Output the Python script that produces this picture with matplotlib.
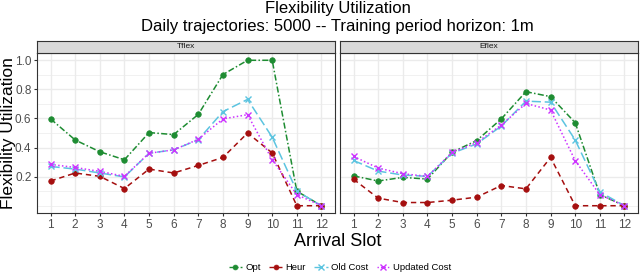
import matplotlib
matplotlib.use("Agg")
import matplotlib.pyplot as plt
from matplotlib.lines import Line2D
import numpy as np

plt.rcParams['font.family'] = ['Liberation Sans', 'DejaVu Sans']

slots = list(range(1, 13))
panels = ["Tflex", "Eflex"]
series_names = ["Opt", "Heur", "Old Cost", "Updated Cost"]

tflex_opt = [0.597, 0.452, 0.371, 0.316, 0.503, 0.489, 0.628, 0.902, 1.0, 1.0, 0.10, 0.0]
tflex_heur = [0.17, 0.225, 0.202, 0.118, 0.252, 0.225, 0.277, 0.332, 0.50, 0.363, 0.0, 0.0]
tflex_old = [0.27, 0.252, 0.225, 0.198, 0.361, 0.384, 0.454, 0.647, 0.731, 0.471, 0.10, 0.0]
tflex_upd = [0.284, 0.263, 0.236, 0.202, 0.361, 0.384, 0.457, 0.597, 0.626, 0.316, 0.076, 0.0]

eflex_opt = [0.205, 0.17, 0.195, 0.183, 0.368, 0.448, 0.597, 0.784, 0.750, 0.571, 0.077, 0.0]
eflex_heur = [0.182, 0.052, 0.022, 0.022, 0.038, 0.059, 0.139, 0.116, 0.332, 0.0, 0.0, 0.0]
eflex_old = [0.311, 0.238, 0.211, 0.202, 0.361, 0.425, 0.548, 0.719, 0.712, 0.452, 0.095, 0.0]
eflex_upd = [0.339, 0.259, 0.22, 0.202, 0.366, 0.434, 0.555, 0.703, 0.658, 0.31, 0.076, 0.0]

data = {
    "Tflex": [tflex_opt, tflex_heur, tflex_old, tflex_upd],
    "Eflex": [eflex_opt, eflex_heur, eflex_old, eflex_upd],
}

colors = ["#1E8C32", "#A50F0F", "#5CC4E0", "#CC33FF"]
markers = ["o", "o", "x", "x"]
styles = [(0, (4, 1.5, 1, 1.5)), (0, (3.5, 2.5)), (0, (6, 2.5)), (0, (1, 1.5))]

fig = plt.figure(figsize=(6.4, 2.76), dpi=100)
W, H = 640, 276
def fx(px): return px / W
def fy(py): return 1 - py / H

ptop, pbot = 53, 213
strip_top = 41
lefts = [37, 340]
width_px = 298

for pi, name in enumerate(panels):
    ax = fig.add_axes([fx(lefts[pi]), fy(pbot), width_px / W, (pbot - ptop) / H])
    sax = fig.add_axes([fx(lefts[pi]), fy(ptop), width_px / W, (ptop - strip_top) / H])
    sax.set_facecolor("#D9D9D9")
    sax.set_xticks([]); sax.set_yticks([])
    for s in sax.spines.values():
        s.set_color("#333333"); s.set_linewidth(0.8)
    sax.text(0.5, 0.5, name, ha="center", va="center", fontsize=6, color="#1A1A1A",
             transform=sax.transAxes)

    for si in range(4):
        ax.plot(slots, data[name][si], color=colors[si], linestyle=styles[si],
                marker=markers[si], markersize=4 if markers[si] == "o" else 5,
                markeredgewidth=1.0 if markers[si] == "x" else 0.5,
                linewidth=1.1, zorder=3)

    ax.set_xlim(0.45, 12.55)
    ax.set_ylim(-0.05, 1.05)
    ax.set_xticks(slots)
    ax.set_yticks([0.2, 0.4, 0.6, 0.8, 1.0])
    ax.set_yticks([0.0, 0.1, 0.3, 0.5, 0.7, 0.9], minor=True)
    ax.set_xticks([], minor=True)
    ax.grid(True, which="major", color="#EBEBEB", linewidth=1.0, zorder=0)
    ax.grid(True, which="minor", axis="y", color="#EBEBEB", linewidth=0.5, zorder=0)
    ax.set_axisbelow(True)
    ax.tick_params(which="major", length=2.5, width=0.8, color="#333333",
                   labelcolor="#4D4D4D", labelsize=8.5, pad=1.5)
    ax.tick_params(which="minor", length=0)
    if pi == 0:
        ax.set_yticklabels(["0.2", "0.4", "0.6", "0.8", "1.0"])
    else:
        ax.tick_params(axis="y", which="major", length=0, labelleft=False)
    for s in ax.spines.values():
        s.set_color("#333333"); s.set_linewidth(0.8)

cx = fx((37 + 638) / 2)
fig.text(fx(9), fy(133), "Flexibility Utilization", ha="center", va="center",
         fontsize=12.5, rotation=90)
fig.text(cx, fy(9), "Flexibility Utilization", ha="center", va="center", fontsize=12)
fig.text(cx, fy(27), "Daily trajectories: 5000 -- Training period horizon: 1m",
         ha="center", va="center", fontsize=12)
fig.text(cx, fy(241), "Arrival Slot", ha="center", va="center", fontsize=13)

handles = [Line2D([0], [0], color=colors[i], linestyle=styles[i], marker=markers[i],
                  markersize=3.5 if markers[i] == "o" else 4, linewidth=1.0,
                  markeredgewidth=1.0 if markers[i] == "x" else 0.5)
           for i in range(4)]
fig.legend(handles, series_names, loc="center", bbox_to_anchor=(fx(340), fy(268)),
           ncol=4, frameon=False, fontsize=6.8, handlelength=1.4, handletextpad=0.35,
           columnspacing=0.9, borderpad=0.1)

fig.savefig("out.png", dpi=100)
